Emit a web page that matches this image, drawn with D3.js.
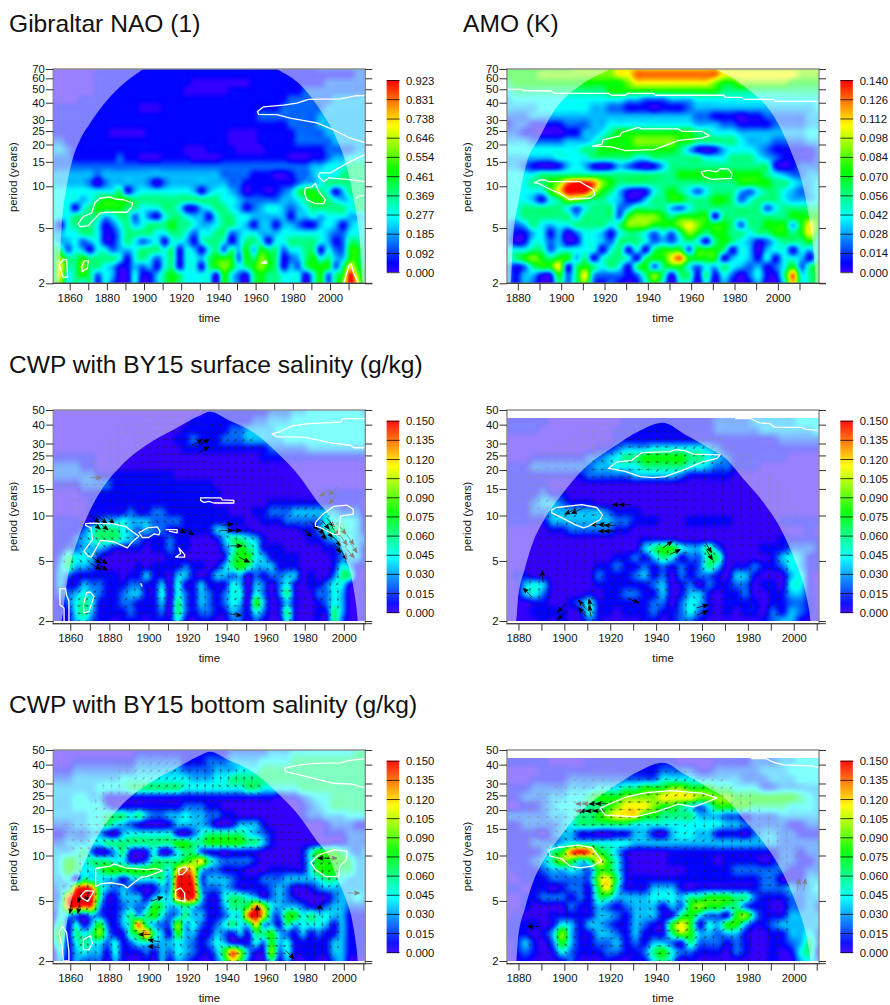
<!DOCTYPE html>
<html>
<head>
<meta charset="utf-8">
<script src="https://cdn.jsdelivr.net/npm/d3@7"></script>
<style>
  body { margin: 0; background: #fff; }
  svg text { font-family: "Liberation Sans", Arial, sans-serif; fill: #111; }
</style>
</head>
<body>
<svg id="chart" width="890" height="1005"></svg>
<script>
// power grids: one string per period row, top row first, one code per 4 years
// codes 0-9,a,b index into levelFractions (fraction of the colour bar maximum)
const levelFractions = [0, .05, .14, .22, .29, .40, .52, .64, .76, .82, .9, 1];

const naoPower = [
  "00000 00111 11111 11111 11111 11111 11111 12222 222",
  "00000 01111 11111 11111 11111 11111 11111 11111 122",
  "00000 01111 11111 11110 00000 00111 11111 11222 222",
  "00000 01111 11111 11100 00001 11111 11112 22222 222",
  "00001 11111 11111 11111 11111 11111 11222 22233 333",
  "11111 11111 11000 11111 11111 11111 12222 22333 333",
  "11111 11111 11111 11111 11111 11122 22222 23333 333",
  "11111 11111 11111 11111 11111 11111 11222 23333 333",
  "11111 11100 00011 11111 11110 00011 11122 22333 333",
  "22111 11111 11111 11111 11110 00011 11122 22233 333",
  "33211 11111 11111 11100 01111 00001 11111 11222 233",
  "22211 11112 11000 11110 00011 11111 11000 11233 444",
  "22222 22222 22222 22222 22222 22222 22222 33444 555",
  "33333 32333 33333 33333 33322 22111 00122 34445 555",
  "33333 20233 33320 23333 33332 21111 11123 34555 555",
  "44444 44445 13444 44443 13443 20110 12356 65413 555",
  "44443 45666 65555 55555 55544 32222 23345 66543 455",
  "44414 56666 55444 55411 34554 31234 43234 55555 455",
  "44455 55345 52421 45543 31455 44333 33133 43444 334",
  "31455 54124 53455 56554 33455 43133 13321 13431 344",
  "33445 54113 55554 45542 44552 34433 34444 44322 444",
  "43342 34113 54234 14431 45541 35541 44555 54312 554",
  "55243 14423 34555 45143 14525 36365 52445 51422 664",
  "57556 55554 14542 45144 35666 26576 51235 64533 664",
  "58557 55431 13231 45144 15676 45676 51325 66625 865",
  "58456 52430 04113 56544 44164 21565 54441 46256 b75",
  "57454 51420 04013 56544 44064 20565 54440 46257 b85"
];

const amoPower = [
  "66666 66677 77788 88888 88888 77777 77777 77",
  "66667 77777 77788 aaaaa aaaaa 88888 88887 77",
  "56666 66666 66667 88888 88887 66777 77766 66",
  "45555 55555 55666 66666 66666 55555 55555 55",
  "34444 44444 44443 32223 33444 44444 44444 44",
  "33334 44444 33221 11011 12333 33333 33333 34",
  "22233 33333 33333 33333 33221 11011 22222 33",
  "12211 11222 33444 44444 44333 22111 12222 33",
  "22110 00113 34566 66666 66554 44333 33333 44",
  "33322 22333 45666 77777 66555 55433 32222 33",
  "44444 44445 56666 66666 53101 34443 21111 12",
  "33333 34444 55555 44555 55544 45554 32111 12",
  "33210 01343 10132 10135 55555 55555 51012 22",
  "44445 55555 55555 55555 66666 66666 54322 33",
  "44455 67abb a7655 55555 55555 55666 65543 34",
  "44444 68bbb 86531 01456 54245 55324 55432 34",
  "44431 45776 55431 13556 65556 65245 55433 34",
  "44555 55424 55523 55553 24555 55555 24555 55",
  "44555 55535 55526 77765 66661 55555 55566 66",
  "32354 34455 55457 77666 78766 65255 66636 86",
  "31134 13024 43145 54242 57656 65545 56656 85",
  "30144 23014 43255 54232 45415 65431 24555 64",
  "44455 24444 41451 41566 62666 51430 34414 35",
  "45676 56635 14554 15668 a6666 13431 41443 15",
  "31256 68156 54541 56256 64243 54323 12462 56",
  "31331 16258 32221 25751 55151 42024 115a4 56",
  "31320 05257 21210 14640 44040 31013 00494 56"
];

const surfaceEarlyPower = [
  "00000 00000 00000 00000 01111 11112 22233 33333 3",
  "00000 00000 00000 00000 11111 11122 23344 44444 3",
  "00000 00000 00000 00011 11111 12233 34444 44444 4",
  "00000 00000 00000 00111 11122 33334 44444 44444 4",
  "00000 00000 00000 01121 11222 33333 44444 44444 4",
  "00000 00000 00000 00111 11111 11122 22233 33333 3",
  "11111 10000 00000 00000 00000 00111 11111 11111 1",
  "22221 10000 00000 00000 00000 00000 00000 00000 0",
  "22222 21111 11111 10000 00000 00000 00000 00000 0",
  "11112 22211 11111 11111 10000 00000 00000 00000 0",
  "00001 11111 11111 11111 11000 00000 00000 11111 1",
  "00000 11111 11111 11111 10000 00011 11111 11111 0",
  "00000 11111 21122 11111 11100 01122 23333 33222 0",
  "11110 12334 33322 22111 11111 00111 22222 44443 1",
  "11112 45554 32322 11111 13311 10000 00112 45543 1",
  "11123 45554 32111 21100 01355 43100 00011 23443 2",
  "11223 33211 11011 21100 00246 54111 00000 11343 1",
  "12544 31000 00000 11000 00156 64311 11000 01233 1",
  "13533 21000 01011 11211 01356 53331 11000 01431 1",
  "13211 11110 11311 03310 13323 02122 33010 02551 0",
  "13113 22111 22113 04113 11143 03202 41011 24410 1",
  "12234 32112 33114 04213 21244 04202 51002 24300 1",
  "11245 41112 21113 05213 21243 06301 31001 24300 1",
  "11145 31111 21112 05212 21132 14201 51001 15300 1",
  "11134 21101 11011 14101 10022 02100 41001 05200 1"
];

const surfaceLatePower = [
  "00000 00000 00011 11111 11122 22233 33444",
  "11111 00000 00011 11111 11122 22333 33444",
  "11110 00000 00111 11111 11122 22233 33334",
  "00000 00000 00111 11111 11111 11111 22222",
  "00000 00000 11233 34444 44321 11111 11111",
  "00011 11112 23455 66666 55432 11111 10000",
  "11122 22222 33444 55555 44322 11100 00000",
  "11111 11112 22223 33332 11111 00000 00000",
  "11111 00000 00000 00000 00000 00000 00000",
  "11112 11000 00000 00000 00000 00000 00000",
  "11123 32111 00000 00000 00000 00000 00000",
  "11122 33333 32111 00000 00000 00000 00000",
  "11111 33333 33221 11000 11111 00000 11111",
  "00000 11222 22110 00000 00000 00000 00010",
  "00000 00000 00000 11110 00000 00000 11111",
  "00000 00000 00000 35664 33520 00011 12221",
  "00000 00000 00112 13541 22550 00001 34311",
  "00000 00000 11211 21212 12530 11211 24311",
  "01100 00000 21112 31202 12210 33100 03410",
  "00343 00000 11111 12301 20211 22011 04410",
  "00342 00001 01122 11301 33101 12001 13310",
  "00011 00124 11111 12202 43101 11101 12210",
  "00011 11014 11011 12112 42101 01102 13210",
  "00001 01002 10000 11012 21000 00012 33101"
];

const bottomEarlyPower = [
  "00000 00000 00000 00000 11111 11111 11122 22222 2",
  "00000 00000 01111 11111 11122 22233 34444 44445 5",
  "00011 11111 12222 22111 22233 33444 45555 55555 5",
  "11122 22222 23333 33222 23334 44555 55555 55555 5",
  "22233 33334 44444 44433 34455 55555 55555 55555 5",
  "33333 34444 55555 55444 44444 55444 44555 55555 5",
  "33344 33111 11111 11111 11111 11110 11234 45555 5",
  "33344 44211 11111 11222 11000 00000 00123 45555 5",
  "33333 44555 45322 33433 22110 00000 00122 33344 4",
  "22233 44543 21000 13333 20013 33100 00000 12221 1",
  "11222 33103 44444 41024 55555 43210 00000 11122 2",
  "22333 44555 55555 56655 66666 55310 00000 01122 2",
  "33345 20135 10140 14552 11011 11000 00146 66532 3",
  "34654 55544 11255 55678 53222 21000 00146 66653 3",
  "34654 45666 66665 48a84 22111 00011 11146 66553 3",
  "33415 44331 34445 3bba2 33321 11222 33334 55433 3",
  "234ab a5323 21013 3bbb3 22321 11123 20012 33333 3",
  "23abb b5113 33134 4abb4 11455 43123 21000 02334 3",
  "24aba a3112 32365 34542 11355 6a743 33211 23322 2",
  "14321 32113 53564 23533 11244 ab832 66454 43311 1",
  "25141 36213 5a532 27342 12454 48331 53444 31311 1",
  "46154 57311 56a53 16331 13213 15563 21312 11311 1",
  "35145 44241 24433 34321 24311 14263 41111 13311 1",
  "14134 33141 11213 24321 136a7 31172 41111 13311 1",
  "13032 22031 00103 13210 02586 20051 30010 02300 0"
];

const bottomLatePower = [
  "00000 00000 00011 11111 11122 22233 33444",
  "11111 00001 11111 11110 00011 11222 33444",
  "00001 11111 11111 11222 21122 22233 34444",
  "00011 11222 22222 22444 43333 32223 33444",
  "11122 22333 44455 66677 66655 44422 33333",
  "11222 33445 66677 77888 87777 66666 66543",
  "00112 34445 56788 87665 42466 66555 54443",
  "22222 33455 67888 66555 53332 21222 33333",
  "11222 23455 55554 44444 44443 32222 21122",
  "11110 23311 00113 31034 43311 10233 22111",
  "11122 23444 44443 33333 33333 33333 22222",
  "11112 56aba 65310 00011 11111 11111 22122",
  "11123 57645 86410 00011 11101 11101 22112",
  "01112 33432 66410 00000 11111 22222 21122",
  "00111 22222 78511 11111 11111 11122 01133",
  "11011 01221 68411 13331 01111 11122 23234",
  "00112 22121 55333 34443 55666 55211 12233",
  "00100 00211 32123 33132 67665 52110 02232",
  "01000 11111 33213 33115 64221 67311 13333",
  "11110 14313 32113 21168 61436 63112 33333",
  "11101 37311 33213 11157 63323 31001 13342",
  "01310 26311 22312 13321 52221 21001 12352",
  "01210 14211 12211 25642 21110 21001 01451",
  "00100 01200 01001 14530 10000 00001 00342"
];

// phase direction of the small arrows: 0=E 1=NE 2=N 3=NW 4=W 5=SW 6=S 7=SE, "." none
const surfaceEarlyPhase = [
  "..... ..... ..4.4 44... ..... ..... ..... .....",
  "..... ...55 55444 44445 55... ..... ..... .....",
  "..... ...66 55544 44455 55555 ..... ..... .....",
  "..... ..66. 65544 44445 55555 5.... ..... .....",
  "..... .566. 65554 44445 55555 55... ..... .....",
  "..... .6665 55544 44444 55555 55... ..... .....",
  "..... 56655 55444 44444 55555 555.. ..... .....",
  "..... 55555 54444 44444 44555 5555. ..... .....",
  "..... 44444 44444 44444 44445 55555 ..... .....",
  ".4444 44444 44444 44444 44444 55555 5.... .....",
  ".4444 44445 55444 44444 44455 55555 55... .....",
  "..445 55555 55554 44444 45555 55555 5555. .....",
  "..555 56655 55544 44444 55556 66555 55555 .....",
  "...56 66655 54444 33344 45566 66655 55555 5....",
  "...67 77665 44433 33334 45666 77666 65555 55...",
  "...77 77766 54330 01233 45667 77777 76666 55...",
  "...77 77770 01100 00122 33367 77777 77777 77...",
  ".6677 77000 01111 00000 00667 77777 77777 776..",
  ".6677 77700 11122 10000 07777 77777 77777 776..",
  ".6677 77770 01122 21000 00777 77667 77777 776..",
  "..667 77666 12222 22100 00677 66665 66777 66...",
  "..666 65566 22222 33211 00666 55555 55666 66...",
  "..665 55566 23333 33222 16665 55544 45566 65...",
  "..655 55556 23333 33322 26655 54444 44556 66...",
  "..555 44555 33344 33332 25554 44444 44455 66...",
  "..544 44455 33444 43332 25544 33334 44455 66...",
  "..544 33445 34455 44332 25443 33333 44455 6....",
  "...44 33344 44555 44332 24433 32233 34445 5...."
];

const surfaceLatePhase = [
  "..... ..... 44.44 44... ..... ..... ....",
  "..... ...44 44444 44444 4.... ..... ....",
  "..... ..333 33344 44444 4444. ..... ....",
  "..... 33333 33344 44455 55555 ..... ....",
  "...33 33333 33344 44455 55555 55... ....",
  "..333 33333 33444 44555 55556 66... ....",
  "..443 33334 44444 45555 66666 666.. ....",
  ".4444 44444 44444 45555 66666 6666. ....",
  ".4444 44444 44444 44445 55666 66666 ....",
  ".5544 44444 44444 44444 55566 66666 6...",
  ".5555 44444 44444 44444 45556 66666 6...",
  "..555 55544 44444 44445 55566 66666 66..",
  "..666 55554 44444 44555 56666 67766 66..",
  "...66 66555 44444 45566 66777 77777 6...",
  "...77 66655 54433 33345 66777 77777 7...",
  "...77 77665 44322 11233 46777 00077 7...",
  "..777 77766 43221 11223 67777 00077 7...",
  "..777 77766 53321 12234 67777 77777 7...",
  "..666 66666 55432 22335 66666 77777 7...",
  "..555 66665 55433 33345 55666 66677 6...",
  "..333 44555 55544 44445 55556 66666 6...",
  "..222 33445 55544 43344 45556 66666 6...",
  "..222 23344 55543 33333 44556 66666 6...",
  "..122 22334 44443 33332 33555 66666 ....",
  "..122 22333 44433 33222 33455 56665 ....",
  "...12 22223 33333 32222 23344 55555 ....",
  "...12 22223 33332 22222 22334 45555 ...."
];

const bottomEarlyPhase = [
  "..... ..... ..1.1 11... ..... ..... ..... .....",
  "..... ...11 11111 11122 22... ..... ..... .....",
  "..... ...22 11111 11222 22222 ..... ..... .....",
  "..... ..22. 11111 11222 22222 2.... ..... .....",
  "..... .222. 21111 11222 23333 33... ..... .....",
  "..... .2222 11111 11222 33333 33... ..... .....",
  "..... 22111 11100 01222 33333 333.. ..... .....",
  "..... 11111 00000 00112 23333 3333. ..... .....",
  "..... 00000 00000 00011 22333 33333 ..... .....",
  ".0000 00000 00000 00011 22333 33444 4.... .....",
  ".0000 00077 70000 00011 22233 34444 44... .....",
  "..077 77777 77000 00111 22233 44444 4444. .....",
  "..777 77777 77700 00112 22334 44455 55555 .....",
  "...67 77777 77700 00112 23344 44555 55555 5....",
  "...66 77777 77000 01122 33344 55555 55555 55...",
  "...66 66777 77000 11223 33445 55555 55566 55...",
  "...55 66677 70001 12233 34455 55556 66666 55...",
  ".5556 66667 70011 22233 44555 55566 66666 55...",
  ".5566 66666 77012 22334 44555 56666 66666 66...",
  ".2556 66677 70012 22333 44556 66666 77766 66...",
  "..225 66677 70112 22333 44566 66777 77776 66...",
  "..222 56677 00112 22334 45566 67777 77766 66...",
  "..122 25667 00122 22334 55667 77777 77766 66...",
  "..112 22566 00222 22345 56667 77700 77766 66...",
  "..112 22256 70122 22355 66777 77000 77776 66...",
  "..112 22256 77122 23556 67777 00000 07766 66...",
  "..012 22225 77222 25566 77700 00000 07766 6....",
  "...01 22225 66222 55667 77000 00110 07766 6...."
];

const bottomLatePhase = [
  "..... ..... 44.44 44... ..... ..... ....",
  "..... ...55 55554 44444 4.... ..... ....",
  "..... ..555 55544 44455 5555. ..... ....",
  "..... 45555 55444 44455 55555 ..... ....",
  "...44 44444 44444 44555 55566 66... ....",
  "..444 44444 44444 45555 55666 66... ....",
  "..444 44444 44444 44455 56666 666.. ....",
  ".4444 44444 44444 44455 56666 6666. ....",
  ".3333 44444 44444 44445 66666 66666 ....",
  ".3333 33344 44444 44445 55666 66666 6...",
  ".3333 33334 44444 44444 55566 66666 6...",
  "..333 33333 44444 44445 55566 77666 66..",
  "..333 33333 34444 44555 56677 77776 66..",
  "...33 33333 34444 45556 66777 77776 6...",
  "...33 33344 44444 55566 67777 77777 7...",
  "...23 33344 44555 56667 77777 77700 7...",
  "..222 33344 55556 66677 77770 00000 0...",
  "..222 23344 55566 66777 77700 00001 1...",
  "..122 22344 55566 67777 70000 01111 1...",
  "..112 22334 55666 77777 00000 11112 2...",
  "..112 22233 45666 77700 00011 11222 2...",
  "..112 22233 45566 77000 00111 12222 2...",
  "..122 22233 45556 70001 11112 22222 2...",
  "..222 22333 44556 70011 11222 22223 ....",
  "..222 23333 44455 60011 12222 22333 ....",
  "...23 33333 44455 50012 22223 33333 ....",
  "...33 33333 44445 50022 22233 33334 ...."
];

// significant phase arrows: [year, period, angle in degrees, counter-clockwise from east]
const surfaceEarlyBold = [
  [1872.6, 9.5, -40], [1876.4, 9.4, -40], [1880.3, 9.4, -45], [1873, 8.6, -40], [1877, 8.5, -40],
  [1873, 5.1, -35], [1876.4, 5.05, -35], [1873, 4.6, -30], [1876.4, 4.55, -30],
  [1925, 30.5, 30], [1928.4, 30.5, 30], [1928.4, 27.2, 30],
  [1916.4, 8, -30], [1920.7, 7.8, -30],
  [1940.3, 8.7, 8], [1940.3, 7.95, 0], [1944.6, 7.95, 0], [1945, 6.3, 0], [1949, 5.1, -25], [1944.6, 2.2, -8],
  [1981.2, 7.7, -40], [1984.7, 8.6, -45], [1987.7, 8.06, -45], [1990.6, 8.7, -50], [1988.9, 7.46, -45],
  [1992.3, 7.66, -50], [1993.2, 9, -50], [1995.7, 7.87, -50], [1999.2, 8.06, -50], [1996.6, 6.75, -50],
  [2000, 6.85, -55], [1996.6, 6.1, -55], [2000, 5.5, -55],
  [2003.4, 6.9, -55], [2005.1, 6.1, -55], [2003.4, 5.6, -50],
  [1990.1, 14.1, 215], [1994.4, 14.5, 225], [1994.4, 12.8, 230], [1873, 17.8, 0]
];
const surfaceLateBold = [
  [1902.5, 10.6, 205], [1905.4, 10.7, 205], [1923.6, 11.8, 180], [1926.5, 11.8, 180],
  [1914.1, 8.7, 180], [1917.5, 8.7, 180], [1920, 8.6, 180], [1917.5, 7.87, 180], [1920, 7.87, 180],
  [1945, 6.41, 35], [1948.3, 5.73, 25], [1962.8, 6.14, -60], [1963.2, 5.5, -60],
  [1890.5, 3.96, 95], [1883.9, 3.1, 135], [1898.9, 2.44, 225], [1898.9, 2.18, 225],
  [1907.9, 2.56, 130], [1907.9, 2.29, 130], [1911.2, 2.56, 100], [1911.2, 2.32, 100],
  [1930.1, 2.73, -20], [1960.2, 2.5, 15], [1960.2, 2.26, 20]
];
const bottomEarlyBold = [
  [1868.7, 5.4, -110], [1864.9, 5.3, -110], [1864.4, 4.5, -100], [1860.2, 4.5, -100],
  [1904.5, 5.15, 20], [1898, 3, 180], [1902.8, 2.72, 170], [1902.8, 2.48, 175],
  [1955.7, 4.27, 90], [1987.7, 4.37, 90], [1972.4, 2.2, -45],
  [1989.8, 9.6, 180], [1993.5, 9.6, 0], [2005.1, 5.64, 0]
];
const bottomLateBold = [
  [1886.5, 3.39, 180],
  [1907.6, 22, 180], [1910.5, 22, 180], [1913.4, 22, 180], [1916.3, 22, 180],
  [1907.6, 19.7, 180], [1909, 19.7, 180], [1912, 19.7, 180], [1915.2, 19.7, 180],
  [2002, 6.41, 80], [2004.7, 6.41, 80]
];

// cone of influence, [year, period]
const naoCone = [[1854,2],[1855.7,5.1],[1858.4,9.9],[1861,14.6],[1865.6,21.6],[1871,28.5],[1878,38.6],[1887,52],[1899.7,70],[1935,120],[1971.5,70],[1984,54],[1994.8,35.5],[2003.8,21.6],[2009,13.9],[2012.8,8],[2016,4.1],[2017.6,2]];
const amoCone = [[1876.6,2],[1877.8,4.1],[1880.5,8],[1884,14.6],[1889.4,21.6],[1897,35.5],[1907.9,52],[1922.8,70],[1947,105],[1971.4,70],[1983.4,54],[2000,28.5],[2006.6,17],[2012,9.4],[2015,5.1],[2017,2.6],[2017.3,2]];
const earlyCone = [[1855.4,2],[1857.6,3.15],[1859.3,4.27],[1863.6,6.75],[1868.7,9.9],[1875.5,14.5],[1885.8,21.2],[1899.4,29.5],[1913,37.1],[1926.7,46.2],[1931.5,48.7],[1940.3,43.3],[1954,35.3],[1965.9,26],[1977.8,17.8],[1986.4,12.4],[1992.3,9.9],[1996.6,7.1],[2000.9,5.2],[2004.3,3.7],[2006.5,2.44],[2007.3,2]];
const lateCone = [[1879,2],[1879.7,2.7],[1882.9,4.5],[1886.5,6.75],[1891.6,9.6],[1898.9,13.8],[1909,20.7],[1920.7,28],[1933.8,37],[1942.8,41.1],[1952.6,34.4],[1962.8,28],[1970,24],[1978.8,16.9],[1987.5,11.8],[1994.8,7.9],[2000.6,5],[2005,3.15],[2006.8,2.3],[2007.4,2]];

// white significance contours, [year, period]; rings get closed, paths stay open
const naoPaths = [
  [[2019,45],[2013.7,44.9],[2005.6,42.6],[1988.5,42.3],[1982.2,39.7],[1975,38.4],[1964.3,37.4],[1961,34.6],[1961.6,33],[1971.5,32.8],[1978.6,31],[1993,28.6],[2002,25.5],[2011,22.2],[2019,20.6]],
  [[2019,17],[2009.2,14.7],[2000.2,12.5],[1994.3,12.5],[1993.9,11.7],[1996.6,10.8],[1999.3,11.5],[2009.2,11.2],[2019,10.8]],
  [[2014.2,8.2],[2015.4,8.5],[2018.5,8.6]],
  [[2007.4,2],[2010,2.64],[2011.3,2.78],[2012.8,2.36],[2015.4,2]]
];
const naoRings = [
  [[1986.7,9.7],[1990.3,9.9],[1992.1,10.5],[1993.9,9.2],[1997.5,8],[1996.6,7.5],[1992.1,7.5],[1987.6,8],[1986.4,8.9]],
  [[1864.7,5.4],[1867.4,6.06],[1871.8,6.4],[1873.6,7.6],[1876.3,8.2],[1881.7,8.4],[1884.4,8.1],[1888.9,8],[1893.7,7.6],[1893.4,7.06],[1890.7,6.5],[1879.9,6.5],[1876.3,6.4],[1872.7,5.7],[1870,5.2],[1865.6,5.1]],
  [[1854.4,2.71],[1856.6,2.98],[1858.4,2.95],[1858.9,2.23],[1856.6,2.2],[1855.3,2.49]],
  [[1866.5,2.64],[1867.9,2.91],[1870,2.91],[1869.5,2.56],[1866.8,2.43]],
  [[1963.4,2.8],[1965.5,2.9],[1966,2.8]]
];
const amoPaths = [
  [[1875,50],[1881.7,50],[1882.5,49],[1895.6,48.6],[1897,46.7],[1921.8,46.7],[1923.3,45.3],[1929.5,45.3],[1930.7,46.7],[1942.6,46.7],[1943.6,45.3],[1975,45.3],[1975.7,43.8],[1983.4,43.7],[1984.5,42.3],[1998,42.3],[1998.8,40.9],[2019,40.9]]
];
const amoRings = [
  [[1914.5,19.5],[1918.7,20.1],[1919.4,21.6],[1927.2,23.1],[1927.9,24.4],[1933.3,25.9],[1935.6,26.6],[1937.2,25.9],[1954.1,25.9],[1955.7,24.9],[1964.9,24.9],[1968.4,23.1],[1964.9,22.2],[1954.1,21.4],[1951,20.5],[1946.4,19.2],[1942.6,18.4],[1929.5,18.1],[1923.3,19.2],[1918.7,19.4]],
  [[1964.6,12.7],[1968,13],[1971.8,12.7],[1973.4,13.4],[1977.2,13.3],[1978.8,12.4],[1978.5,11.4],[1969.5,11.2],[1965.7,11.8]],
  [[1887.6,10.6],[1890.2,11.1],[1892.5,11.1],[1894,10.8],[1908.7,10.8],[1911.7,10.1],[1914.8,9.5],[1915.6,8.7],[1913.3,8.2],[1905.6,8.1],[1904,8],[1899.4,8.9],[1895.6,9.4],[1889.4,10.5]]
];
const surfaceEarlyPaths = [
  [[2011,43.9],[1999.7,43.9],[1998.4,41.5],[1982.1,40.6],[1973.6,39.2],[1967.6,36],[1963.3,34.7],[1965.9,33.2],[1974.4,33.2],[1981.2,32.8],[1993.2,30.3],[2003.4,29.2],[2005.1,28.1],[2011,28.1]],
  [[1859.3,2],[1859.3,2.7],[1858,2.98],[1857.6,3.28],[1854.7,3.28],[1854.7,2.56],[1856.8,2.44],[1856.8,2]],
  [[1896,3.56],[1896.8,3.39]],
  [[1908.8,8.06],[1914.7,8.06],[1914.7,7.66],[1910.5,7.87]]
];
const surfaceEarlyRings = [
  [[1867.8,8.84],[1870.4,8.9],[1882.3,8.8],[1888.3,8.45],[1895.1,7.28],[1891.7,6.7],[1889.2,6.1],[1882.3,6.7],[1875.5,6.85],[1870.7,5.3],[1869,5.4],[1867,5.8],[1871.3,6.9],[1870.7,8.27],[1867.8,8.6]],
  [[1895.1,7.7],[1899.4,8.27],[1904.5,8.4],[1905.9,7.87],[1905.4,7.45],[1902.8,7.55],[1900.2,7.15],[1896.8,7.15]],
  [[1915.6,6.1],[1918.5,5.5],[1918.5,5.3],[1913.9,5.3],[1916.5,5.6]],
  [[1926.7,13.1],[1936.9,13.1],[1937.8,12.7],[1943.7,12.6],[1943.7,12.1],[1933.5,12.1],[1930.9,12.4],[1928.4,12.2],[1926.7,12.6]],
  [[1985.5,9],[1988.9,10.1],[1994.9,11.5],[2001.7,11.7],[2004.8,11],[2004.8,10.2],[1998.3,9.9],[1997.4,7.5],[1994.9,7.5],[1988.1,8.3],[1985.5,8.5]],
  [[1866.7,2.56],[1868.4,3.1],[1870.4,3.1],[1872.1,2.9],[1869.6,2.32],[1867,2.26]]
];
const surfaceLatePaths = [
  [[1974.4,43.9],[1981,43.9],[1985.3,41.1],[1989.7,40.6],[1991.9,38.3],[2003.5,38.3],[2004.9,37.4],[2010.8,36.5]]
];
const surfaceLateRings = [
  [[1919.2,20.5],[1922.9,22.6],[1929.4,23.2],[1933.8,26.1],[1946.1,26.5],[1948.3,27.3],[1952.6,26.9],[1956.3,25.5],[1967.9,25.2],[1966.5,23.9],[1959.9,22.6],[1952.6,20.2],[1943.9,18.1],[1938.8,17.8],[1933,18.1],[1926.5,19.6],[1922.1,20.2]],
  [[1894.5,10.9],[1896.7,11.3],[1907.6,11.8],[1914.1,11.3],[1916.6,10.1],[1915.6,9.4],[1910.5,8.5],[1908.3,8.27],[1904.7,8.7],[1898.2,9.8],[1894.5,10.4]]
];
const bottomEarlyPaths = [
  [[2011,43.9],[2002.6,42.6],[1998.4,41.1],[1982.1,40.6],[1973.6,38.9],[1969.7,37.9],[1970.2,36],[1975.3,34.7],[1983,32.8],[1994.9,30.1],[2004.1,29.7],[2011,28.1]],
  [[1854.2,3.1],[1855.9,3.39],[1858.1,3.1],[1859.3,2.32],[1859.3,2],[1856.4,2],[1855.9,2.44],[1854.2,3.1]]
];
const bottomEarlyRings = [
  [[1866.7,2.77],[1870.4,2.95],[1871.3,2.63],[1869.6,2.38],[1866.7,2.38]],
  [[1865.3,5.4],[1867.8,5.85],[1872.1,5.8],[1869,4.97],[1866.1,5.2]],
  [[1873,6.2],[1873,8.2],[1880.6,8.5],[1882.3,8.8],[1888.3,8.27],[1899.4,8.06],[1903.7,8.2],[1907.1,7.95],[1899.4,7.28],[1896,7.15],[1889.2,6.1],[1886.6,6.41],[1880.6,6.6],[1875.5,6.5]],
  [[1913.9,5.85],[1913.9,5.1],[1918.7,4.97],[1918.5,5.64],[1916.4,6.1]],
  [[1915.6,8.2],[1919,8.4],[1919.9,8.06],[1917.3,7.46],[1915.6,7.46]],
  [[1983,9],[1987.2,10.1],[1994.9,10.9],[2001.7,10.7],[2001.4,9.4],[1998,8.5],[1997.4,7.25],[1990.6,7.25],[1985.5,8.06]]
];
const bottomLatePaths = [
  [[1981.4,43.9],[1987.8,43.9],[1991.1,41.5],[1995.5,39.8],[2007.9,39.2],[2010.8,38.3]]
];
const bottomLateRings = [
  [[1915.6,20.5],[1919.2,21.8],[1927.2,24.5],[1935.9,26.1],[1946.1,26.9],[1957,26.1],[1959.9,25.9],[1966.5,24.1],[1963.5,23],[1956.3,21],[1949.7,21.9],[1944.7,20.6],[1939.6,19.4],[1930.8,18],[1917.8,18.5]],
  [[1893.4,10.8],[1896.7,11.3],[1906.2,11.7],[1912,11.3],[1916.3,9.2],[1912,8.5],[1906.9,8.27],[1902.5,8.5],[1898.9,9.5],[1893.8,9.9]]
];

const naoBarTicks = ["0.000","0.092","0.185","0.277","0.369","0.461","0.554","0.646","0.738","0.831","0.923"];
const amoBarTicks = ["0.000","0.014","0.028","0.042","0.056","0.070","0.084","0.098","0.112","0.126","0.140"];
const salinityBarTicks = ["0.000","0.015","0.030","0.045","0.060","0.075","0.090","0.105","0.120","0.135","0.150"];

const longPeriodTicks = [2, 5, 10, 15, 20, 25, 30, 40, 50, 60, 70];
const shortPeriodTicks = [2, 5, 10, 15, 20, 25, 30, 40, 50];

const rowTitles = [
  { text: "Gibraltar NAO (1)", x: 9, y: 32 },
  { text: "AMO (K)", x: 463, y: 32 },
  { text: "CWP with BY15 surface salinity (g/kg)", x: 9, y: 373 },
  { text: "CWP with BY15 bottom salinity (g/kg)", x: 9, y: 713 }
];

const COL_LEFT = [53.3, 507], PLOT_W = 312;
const TOP_ROW = { top: 69, bottom: 283.3, barTop: 80.5, barBottom: 272.7, axisGap: 0 };
const MID_ROW = { top: 410, bottom: 621, barTop: 421.2, barBottom: 612.7, axisGap: 2.7 };
const LOW_ROW = { top: 750, bottom: 961, barTop: 761.2, barBottom: 952.7, axisGap: 2.7 };

const panels = [
  { grid: naoPower, row: TOP_ROW, left: COL_LEFT[0], years: [1851.2, 2019], t0: 1851, periods: [2, 70], imageTop: 70,
    bar: naoBarTicks, ticks: longPeriodTicks, cone: naoCone, paths: naoPaths, rings: naoRings },
  { grid: amoPower, row: TOP_ROW, left: COL_LEFT[1], years: [1875, 2019], t0: 1875, periods: [2, 70], imageTop: 70,
    bar: amoBarTicks, ticks: longPeriodTicks, cone: amoCone, paths: amoPaths, rings: amoRings },
  { grid: surfaceEarlyPower, row: MID_ROW, left: COL_LEFT[0], years: [1851.3, 2011], t0: 1851, periods: [2, 50], imageTop: 50,
    bar: salinityBarTicks, ticks: shortPeriodTicks, cone: earlyCone, paths: surfaceEarlyPaths, rings: surfaceEarlyRings,
    phase: surfaceEarlyPhase, bold: surfaceEarlyBold, arrowT0: 1853 },
  { grid: surfaceLatePower, row: MID_ROW, left: COL_LEFT[1], years: [1875, 2011], t0: 1875, periods: [2, 50], imageTop: 44.3,
    bar: salinityBarTicks, ticks: shortPeriodTicks, cone: lateCone, paths: surfaceLatePaths, rings: surfaceLateRings,
    phase: surfaceLatePhase, bold: surfaceLateBold, arrowT0: 1877 },
  { grid: bottomEarlyPower, row: LOW_ROW, left: COL_LEFT[0], years: [1851.3, 2011], t0: 1851, periods: [2, 50], imageTop: 50,
    bar: salinityBarTicks, ticks: shortPeriodTicks, cone: earlyCone, paths: bottomEarlyPaths, rings: bottomEarlyRings,
    phase: bottomEarlyPhase, bold: bottomEarlyBold, arrowT0: 1853 },
  { grid: bottomLatePower, row: LOW_ROW, left: COL_LEFT[1], years: [1875, 2011], t0: 1875, periods: [2, 50], imageTop: 44.3,
    bar: salinityBarTicks, ticks: shortPeriodTicks, cone: lateCone, paths: bottomLatePaths, rings: bottomLateRings,
    phase: bottomLatePhase, bold: bottomLateBold, arrowT0: 1877 }
];

const svg = d3.select("#chart");

svg.selectAll("text.title").data(rowTitles).join("text")
  .attr("class", "title")
  .attr("x", d => d.x).attr("y", d => d.y)
  .attr("font-size", 24.6)
  .text(d => d.text);

// catmull-rom weight of the four neighbours
function cubic(a, b, c, d, f) {
  return b + 0.5 * f * (c - a + f * (2 * a - 5 * b + 4 * c - d + f * (3 * (b - c) + d - a)));
}

function heatImage(p, x, y, colour, zMax) {
  const rows = p.grid.map(s => Array.from(s.replace(/\s/g, ""), c => levelFractions[parseInt(c, 12)] * zMax));
  const nRows = rows.length;
  const at = (r, c) => {
    const row = rows[Math.max(0, Math.min(nRows - 1, r))];
    return row[Math.max(0, Math.min(row.length - 1, c))];
  };
  const yTop = Math.round(y(p.imageTop)), yBottom = Math.round(y(2));
  const pad = 4; // drawn past the edges so the soft blur has no white rim
  const w = PLOT_W, h = yBottom - yTop;
  const raw = document.createElement("canvas");
  raw.width = w + 2 * pad; raw.height = h + 2 * pad;
  const rawCtx = raw.getContext("2d");
  const img = rawCtx.createImageData(raw.width, raw.height);
  const lut = d3.range(513).map(i => d3.rgb(colour(i / 512 * zMax)));
  for (let py = 0; py < raw.height; py++) {
    const period = y.invert(yTop + py - pad + 0.5);
    const k = nRows - 1 - Math.log2(period / 2) * 5;
    const r0 = Math.floor(k), fr = k - r0;
    for (let px = 0; px < raw.width; px++) {
      const g = (x.invert(x.range()[0] + px - pad + 0.5) - p.t0) / 4;
      const c0 = Math.floor(g), fc = g - c0;
      const col = [-1, 0, 1, 2].map(dr =>
        cubic(at(r0 + dr, c0 - 1), at(r0 + dr, c0), at(r0 + dr, c0 + 1), at(r0 + dr, c0 + 2), fc));
      const v = Math.max(0, Math.min(zMax, cubic(col[0], col[1], col[2], col[3], fr)));
      const rgb = lut[Math.round(v / zMax * 512)];
      const i = (py * raw.width + px) * 4;
      img.data[i] = rgb.r; img.data[i + 1] = rgb.g; img.data[i + 2] = rgb.b; img.data[i + 3] = 255;
    }
  }
  rawCtx.putImageData(img, 0, 0);
  const cv = document.createElement("canvas");
  cv.width = w; cv.height = h;
  const ctx = cv.getContext("2d");
  ctx.filter = "blur(1.1px)";
  ctx.drawImage(raw, -pad, -pad);
  return { href: cv.toDataURL(), yTop, w, h };
}

panels.forEach((p, idx) => {
  const row = p.row;
  const x = d3.scaleLinear().domain(p.years).range([p.left, p.left + PLOT_W]);
  const y = d3.scaleLog().base(2).domain(p.periods).range([row.bottom, row.top]);
  const zMax = +p.bar[p.bar.length - 1];
  const hue = d3.scaleLinear().domain([0, zMax]).range([252, 0]).clamp(true);
  const colour = v => d3.hsl(hue(v), 1, 0.5).toString();
  const g = svg.append("g");
  const clipId = "plot-clip-" + idx;

  const heat = heatImage(p, x, y, colour, zMax);
  g.append("clipPath").attr("id", clipId).append("rect")
    .attr("x", p.left).attr("y", heat.yTop).attr("width", PLOT_W).attr("height", heat.h);
  g.append("image")
    .attr("x", p.left).attr("y", heat.yTop)
    .attr("width", heat.w).attr("height", heat.h)
    .attr("preserveAspectRatio", "none")
    .attr("href", heat.href);

  const inner = g.append("g").attr("clip-path", `url(#${clipId})`);

  // small phase arrows
  if (p.phase) {
    const small = [];
    p.phase.forEach((s, i) => {
      const period = 2 * 2 ** ((p.phase.length - 1 - i) / 6);
      Array.from(s.replace(/\s/g, "")).forEach((c, j) => {
        if (c !== ".") small.push({ year: p.arrowT0 + 4 * j, period, angle: +c * 45 });
      });
    });
    inner.append("g").selectAll("path").data(small).join("path")
      .attr("transform", d => `translate(${x(d.year)},${y(d.period)}) rotate(${-d.angle})`)
      .attr("d", "M-2.8,0L1,0M2.8,0L0.6,-0.9L0.6,0.9Z")
      .attr("stroke", "#222").attr("stroke-width", 0.4).attr("fill", "#222").attr("opacity", 0.6);
    inner.append("g").selectAll("path").data(p.bold).join("path")
      .attr("transform", d => `translate(${x(d[0])},${y(d[1])}) rotate(${-d[2]})`)
      .attr("d", "M-6,0L2,0M6,0L0.8,-2L2,0L0.8,2Z")
      .attr("stroke", "#000").attr("stroke-width", 0.7).attr("fill", "#000");
  }

  // white veil outside the cone of influence
  const veil = d3.area()
    .x(d => x(d[0]))
    .y0(heat.yTop)
    .y1(d => y(d[1]))
    .curve(d3.curveMonotoneX);
  const veilShape = [[p.years[0], 2], [p.cone[0][0] - 0.01, 2], ...p.cone, [p.cone[p.cone.length - 1][0] + 0.01, 2], [p.years[1], 2]];
  inner.append("path")
    .attr("d", veil(veilShape))
    .attr("fill", "#fff").attr("fill-opacity", 0.5);

  // significance contours
  const line = d3.line().x(d => x(d[0])).y(d => y(d[1]));
  const contourStyle = sel => sel
    .attr("fill", "none").attr("stroke", "#fff")
    .attr("stroke-width", 1.3).attr("stroke-linejoin", "round");
  inner.append("g").selectAll("path").data(p.paths).join("path")
    .attr("d", line).call(contourStyle);
  inner.append("g").selectAll("path").data(p.rings).join("path")
    .attr("d", d => line(d) + "Z").call(contourStyle);

  // frame and axes
  const axisY = row.bottom + row.axisGap;
  const right = p.left + PLOT_W;
  g.append("rect")
    .attr("x", p.left).attr("y", row.top)
    .attr("width", PLOT_W).attr("height", axisY - row.top)
    .attr("fill", "none").attr("stroke", "#8a8a8a").attr("stroke-width", 1.4);

  const yAxis = g.append("g").attr("transform", `translate(${p.left},0)`)
    .call(d3.axisLeft(y).tickValues(p.ticks).tickFormat(d3.format("d")).tickSize(7.5).tickPadding(1));
  const yRight = g.append("g").attr("transform", `translate(${right},0)`)
    .call(d3.axisRight(y).tickValues(p.ticks).tickFormat("").tickSize(7));
  const years = d3.range(Math.ceil(p.years[0] / 10) * 10, p.years[1], 10);
  const xAxis = g.append("g").attr("transform", `translate(0,${axisY})`)
    .call(d3.axisBottom(x).tickValues(years)
      .tickFormat(d => d % 20 === 0 ? String(d) : "").tickSize(7).tickPadding(3.7));
  [yAxis, yRight, xAxis].forEach(a => {
    a.select(".domain").remove();
    a.selectAll("line").attr("stroke", "#333").attr("stroke-width", 1);
    a.selectAll("text").attr("font-size", 11.3).attr("font-family", null);
  });
  g.append("line")
    .attr("x1", p.left - 0.7).attr("x2", right + 7)
    .attr("y1", axisY).attr("y2", axisY)
    .attr("stroke", "#333").attr("stroke-width", 1);

  g.append("text")
    .attr("x", p.left + PLOT_W / 2).attr("y", axisY + 38.6)
    .attr("text-anchor", "middle").attr("font-size", 11.3).text("time");
  g.append("text")
    .attr("transform", `translate(${p.left - 36.3},${(row.top + row.bottom) / 2 + 1}) rotate(-90)`)
    .attr("text-anchor", "middle").attr("font-size", 11.3).text("period (years)");

  // colour bar
  const barX = right + 21.4, barW = 12.4;
  const barScale = d3.scaleLinear().domain([0, zMax]).range([row.barBottom, row.barTop]);
  const barSteps = d3.range(0, Math.round(row.barBottom - row.barTop));
  g.append("g").selectAll("rect").data(barSteps).join("rect")
    .attr("x", barX).attr("width", barW)
    .attr("y", i => row.barTop + i - 0.5).attr("height", 1.2)
    .attr("fill", i => colour(barScale.invert(row.barTop + i + 0.5)));
  g.append("g").selectAll("line").data(p.bar).join("line")
    .attr("x1", barX).attr("x2", barX + barW + 0.6)
    .attr("y1", d => barScale(+d)).attr("y2", d => barScale(+d))
    .attr("stroke", "#000").attr("stroke-opacity", 0.75).attr("stroke-width", 1);
  g.append("g").selectAll("text").data(p.bar).join("text")
    .attr("x", right + 40.7)
    .attr("y", d => barScale(+d) + 4)
    .attr("font-size", 11.3)
    .text(d => d);
});
</script>
</body>
</html>
